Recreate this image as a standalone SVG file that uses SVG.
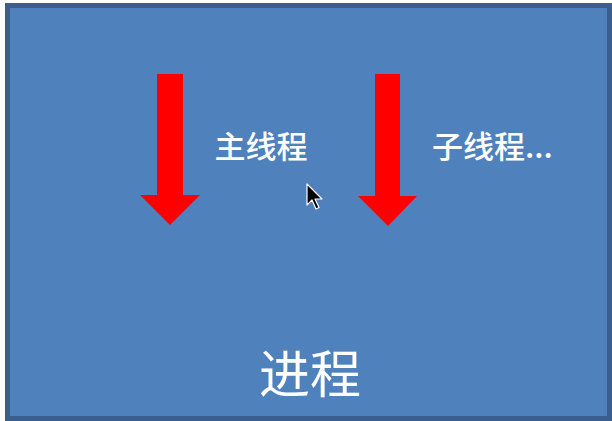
<svg xmlns="http://www.w3.org/2000/svg" width="612" height="421" viewBox="0 0 612 421">
  <style>
    .lbl { font-family: "Noto Sans CJK SC", "Noto Sans", sans-serif; fill: #ffffff; font-weight: 500; }
    .big { font-weight: 400; }
    .arrow { fill: #ff0000; }
  </style>
  <rect x="0" y="0" width="612" height="421" fill="#ffffff"/>
  <g id="process">
    <rect x="7.5" y="5.5" width="602" height="413" fill="#4f81bd" stroke="#3a5f8e" stroke-width="5"/>
    <text class="lbl big" x="310" y="393" font-size="51" text-anchor="middle">进程</text>
  </g>
  <g id="connectors">
    <g id="arrow-main">
      <polygon class="arrow" points="157,74 183,74 183,195 200,195 170,225 140,195 157,195"/>
    </g>
    <g id="arrow-sub">
      <polygon class="arrow" points="375,74 400,74 400,196 417,196 388,226 358,196 375,196"/>
    </g>
  </g>
  <g id="main-thread">
    <text class="lbl" x="261" y="158" font-size="31" text-anchor="middle">主线程</text>
  </g>
  <g id="sub-thread">
    <text class="lbl" x="432" y="158" font-size="31">子线程...</text>
  </g>
  <g id="cursor">
    <path d="M307,184 L307,205 L312,200 L316,209 L319,207.5 L315,199 L322,199 Z" fill="#000000" stroke="#ffffff" stroke-width="1.2" stroke-linejoin="round"/>
  </g>
</svg>
